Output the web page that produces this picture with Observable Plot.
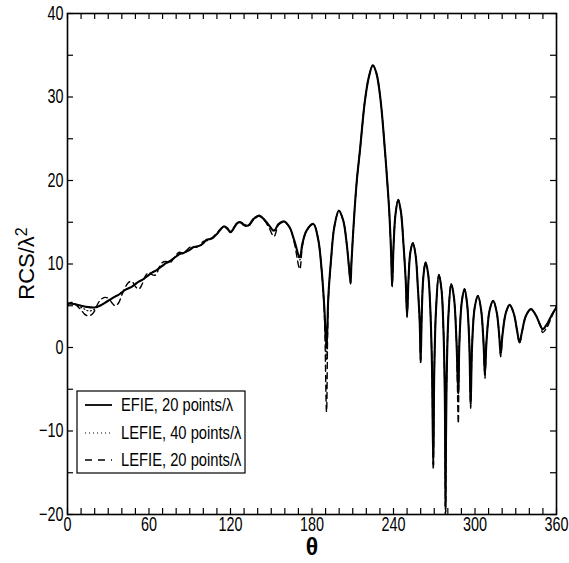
<!DOCTYPE html>
<html><head><meta charset="utf-8">
<script src="https://cdn.jsdelivr.net/npm/d3@7"></script>
<script src="https://cdn.jsdelivr.net/npm/@observablehq/plot@0.6"></script>
<style>body{margin:0;background:#fff}</style>
</head><body><div id="chart"></div>
<script>
// Observation angle θ (degrees)
const theta = [
  0,2.5,5,7.5,10,12.5,15,17.5,20,22.5,25,27.5,30,32.5,35,37.5,40,42.5,45,47.5,
  50,52.5,55,57.5,60,62.5,65,67.5,70,72.5,75,77.5,80,82.5,85,87.5,90,92.5,95,97.5,
  100,102.5,105,107.5,110,112.5,115,117.5,120,122.5,125,127.5,130,
  133,137,141,145,148.5,152,155.5,159.5,163.5,167,171,173,176,181,184.5,187,189,190.7,
  192,194,196.5,199.8,203,205.5,207.3,208.4,209,211,213,215.3,219,222,224.8,227.5,230.5,
  233.7,236,237.1,238.3,239,240,241.5,243.5,245.5,247.5,249,250,251,252.5,254.3,256.3,
  258,259.3,260,260.8,262,263.6,265.5,267,268.3,269.3,270,271.3,273.4,275.3,276.8,277.8,
  278.3,279,280.5,282.5,284.5,286.3,287.7,288.5,290.3,292.3,294.2,295.8,296.8,297.8,299.8,
  302.2,304.5,306.3,307.3,308.5,310.8,313.4,316,317.8,318.9,320.3,322.8,325.5,328.5,331,
  332.8,334.5,337.5,341.2,345,348,349.8,353,356.5,360
];
// EFIE, 20 points/λ
const efie = [
  5.3,5.25,5.2,5.1,5.0,4.9,4.85,4.8,4.8,4.9,5.1,5.35,5.6,5.85,6.1,6.3,6.6,6.9,7.1,7.3,
  7.6,7.9,8.1,8.4,8.7,9.0,9.2,9.5,9.8,10.1,10.3,10.6,10.9,11.2,11.3,11.5,11.7,12.0,12.1,12.2,
  12.5,12.9,13.0,13.2,13.6,14.1,14.5,14.3,13.8,14.3,14.9,15.0,14.7,
  14.6,15.4,15.8,15.3,14.6,14.0,14.8,15.1,14.4,12.8,10.8,12.5,14.0,14.8,13.0,9.5,5.0,0.0,
  6.0,10.5,14.5,16.4,15.2,12.5,9.5,7.8,10.0,15.6,20.0,23.6,29.6,32.5,33.8,32.8,29.6,
  23.6,18.5,15.6,11.0,7.4,12.0,16.0,17.7,16.2,12.0,8.0,3.8,8.0,11.5,12.5,11.0,
  7.0,3.0,-1.6,4.0,8.5,10.2,8.8,5.0,-2.0,-14.1,-3.0,4.5,8.7,7.0,2.0,-6.0,
  -19.0,-5.0,4.0,7.6,6.0,1.0,-5.5,0.5,5.5,7.0,5.2,0.5,-6.9,0.0,4.8,
  6.2,4.5,0.5,-3.2,0.8,4.5,5.6,4.2,1.5,-0.8,1.6,4.2,5.1,4.1,2.0,
  0.6,1.8,3.8,4.6,3.8,2.7,2.2,2.8,3.9,4.8
];
// LEFIE, 40 points/λ
const lefie40 = [
  5.3,5.25,5.2,5.0,4.8,4.6,4.4,4.4,4.6,4.9,5.1,5.35,5.6,5.85,6.1,6.3,6.6,6.9,7.1,7.3,
  7.6,7.9,8.1,8.4,8.7,9.0,9.2,9.5,9.8,10.1,10.3,10.6,10.9,11.2,11.3,11.5,11.7,12.0,12.1,12.2,
  12.5,12.9,13.0,13.2,13.6,14.1,14.5,14.3,13.8,14.3,14.9,15.0,14.7,
  14.6,15.4,15.8,15.3,14.6,13.9,14.8,15.1,14.4,12.7,10.5,12.4,14.0,14.8,13.0,9.5,4.8,-1.5,
  5.8,10.5,14.5,16.4,15.2,12.5,9.5,7.7,10.0,15.6,20.0,23.6,29.6,32.5,33.8,32.8,29.6,
  23.6,18.5,15.6,11.0,7.4,12.0,16.0,17.7,16.2,12.0,8.0,3.8,8.0,11.5,12.5,11.0,
  7.0,3.0,-1.7,4.0,8.5,10.2,8.8,5.0,-2.0,-14.3,-3.0,4.5,8.7,7.0,2.0,-6.0,
  -20.5,-5.0,4.0,7.6,6.0,1.0,-6.0,0.5,5.5,7.0,5.2,0.5,-7.0,0.0,4.8,
  6.2,4.5,0.5,-3.3,0.8,4.5,5.6,4.2,1.5,-0.9,1.6,4.2,5.1,4.1,2.0,
  0.6,1.8,3.8,4.6,3.8,2.7,2.1,2.7,3.8,4.9
];
// LEFIE, 20 points/λ
const lefie20 = [
  5.0,5.4,5.3,4.9,4.5,4.0,3.8,3.9,4.4,5.3,5.8,6.0,5.9,5.4,5.0,5.3,6.3,7.2,7.8,7.9,
  7.3,7.0,7.6,8.6,9.0,8.7,8.7,9.6,10.2,10.3,10.1,10.5,11.1,11.4,11.3,11.6,12.0,12.1,12.0,12.3,
  12.7,12.8,12.9,13.3,13.7,14.2,14.4,14.2,13.9,14.4,14.9,14.9,14.6,
  14.5,15.3,15.7,15.2,14.3,13.3,14.7,15.0,14.4,12.5,9.4,12.2,14.0,14.8,13.0,9.4,4.5,-7.7,
  5.5,10.4,14.5,16.3,15.2,12.5,9.4,7.6,10.0,15.6,20.0,23.6,29.6,32.5,33.8,32.8,29.6,
  23.6,18.5,15.6,11.0,7.3,12.0,16.0,17.7,16.2,12.0,8.0,3.6,8.0,11.5,12.5,11.0,
  7.0,3.0,-2.0,4.0,8.5,10.2,8.8,5.0,-2.0,-14.6,-3.0,4.5,8.7,7.0,2.0,-6.0,
  -21.5,-5.0,4.0,7.6,6.0,1.0,-9.1,0.5,5.5,7.0,5.2,0.5,-7.3,0.0,4.8,
  6.2,4.5,0.5,-3.7,0.8,4.5,5.6,4.2,1.5,-1.1,1.6,4.2,5.1,4.1,2.0,
  0.5,1.8,3.8,4.6,3.8,2.6,1.8,2.4,3.7,5.0
];
const xTickLabels = [0,60,120,180,240,300,360];
const yTickLabels = [-20,-10,0,10,20,30,40];
const xMinorTicks = d3.range(0, 361, 10);
const yMinorTicks = d3.range(-20, 41, 5);
const seriesNames = ["EFIE, 20 points/λ", "LEFIE, 40 points/λ", "LEFIE, 20 points/λ"];

const rows = theta.map((t, i) => ({t, efie: efie[i], l40: lefie40[i], l20: lefie20[i]}));

const W = 569, H = 563, mL = 67, mR = 13, mT = 13, mB = 49;
const iW = W - mL - mR, iH = H - mT - mB, tk = 6;
const font = "'Liberation Sans', Arial, Helvetica, sans-serif";

const chart = Plot.plot({
  width: W, height: H,
  marginLeft: mL, marginRight: mR, marginTop: mT, marginBottom: mB,
  x: {domain: [0, 360]},
  y: {domain: [-20, 40]},
  style: {fontFamily: font, fontSize: "20px", color: "black", background: "white"},
  marks: [
    Plot.line(rows, {x: "t", y: "l40", stroke: "black", strokeWidth: 1.2, strokeDasharray: "1,2.5", curve: "catmull-rom", clip: true}),
    Plot.line(rows, {x: "t", y: "l20", stroke: "black", strokeWidth: 1.4, strokeDasharray: "6,4", curve: "catmull-rom", clip: true}),
    Plot.line(rows, {x: "t", y: "efie", stroke: "black", strokeWidth: 2.1, curve: "catmull-rom", clip: true}),
    Plot.ruleX(xMinorTicks, {x: d => d, insetTop: iH - tk, stroke: "black", strokeWidth: 1.2}),
    Plot.ruleX(xMinorTicks, {x: d => d, insetBottom: iH - tk, stroke: "black", strokeWidth: 1.2}),
    Plot.ruleY(yMinorTicks, {y: d => d, insetRight: iW - tk, stroke: "black", strokeWidth: 1.2}),
    Plot.ruleY(yMinorTicks, {y: d => d, insetLeft: iW - tk, stroke: "black", strokeWidth: 1.2}),
    Plot.frame({stroke: "black", strokeWidth: 1.6}),
    Plot.axisX(xTickLabels, {tickSize: 0, tickPadding: 2, label: null, fontSize: 20}),
    Plot.axisY(yTickLabels, {tickSize: 0, tickPadding: 4, label: null, fontSize: 20}),
    Plot.text(["θ"], {frameAnchor: "bottom", dy: 40, fontSize: 23, fontWeight: "bold"})
  ]
});

const svg = d3.select(chart);

// condensed look for tick labels
svg.selectAll("g[aria-label$='tick label'] text").each(function() {
  const el = d3.select(this);
  let tr = el.attr("transform");
  if (!tr) {
    tr = `translate(${+el.attr("x") || 0},${+el.attr("y") || 0})`;
    el.attr("x", null).attr("y", null);
  }
  el.attr("transform", tr + " scale(0.72,1)");
});

// y-axis title with superscript
const yl = svg.append("text")
  .attr("transform", `translate(34,${mT + iH / 2}) rotate(-90)`)
  .attr("text-anchor", "middle").attr("font-family", font).attr("font-size", 22).attr("fill", "black");
yl.append("tspan").text("RCS/λ");
yl.append("tspan").attr("dy", "-0.45em").attr("font-size", 16).text("2");

// Legend box inside the plot area
const lg = svg.append("g").attr("font-family", font).attr("font-size", 18).attr("text-anchor", "start");
lg.append("rect").attr("x", 77).attr("y", 391).attr("width", 168).attr("height", 82)
  .attr("fill", "white").attr("stroke", "black").attr("stroke-width", 1.2);
const dashes = [null, "1,3", "7,6"];
const widths = [1.8, 1.2, 1.4];
const rowY = [405, 433, 460];
seriesNames.forEach((name, i) => {
  const ln = lg.append("line").attr("x1", 85).attr("x2", 112).attr("y1", rowY[i]).attr("y2", rowY[i])
    .attr("stroke", "black").attr("stroke-width", widths[i]);
  if (dashes[i]) ln.attr("stroke-dasharray", dashes[i]);
  lg.append("text").attr("transform", `translate(121,${rowY[i]}) scale(0.82,1)`)
    .attr("dy", "0.35em").attr("text-anchor", "start").attr("fill", "black").text(name);
});

document.getElementById("chart").appendChild(chart);
</script>
</body></html>
